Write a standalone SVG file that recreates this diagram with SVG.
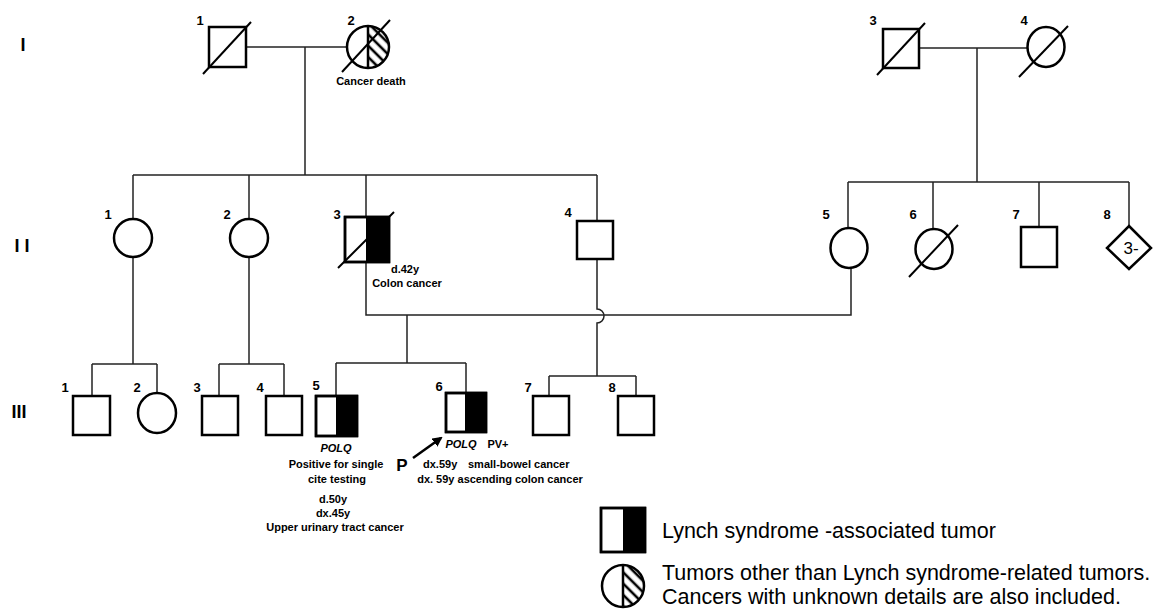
<svg xmlns="http://www.w3.org/2000/svg" width="1159" height="609" viewBox="0 0 1159 609">
<style>
.sh{fill:#fff;stroke:#000;stroke-width:2.5}
.fill{fill:#000;stroke:none}
.dg{stroke:#000;stroke-width:2;fill:none}
.cn{stroke:#222;stroke-width:1.5;fill:none}
.num{font-family:"Liberation Sans",Arial,sans-serif;font-weight:bold;font-size:13px;fill:#000;text-anchor:middle}
.rom{font-family:"Liberation Sans",Arial,sans-serif;font-weight:bold;font-size:18px;fill:#000;text-anchor:middle}
.ann{font-family:"Liberation Sans",Arial,sans-serif;font-weight:bold;font-size:11px;fill:#000;text-anchor:middle}
.it{font-style:italic}
.leg{font-family:"Liberation Sans",Arial,sans-serif;font-size:21.5px;fill:#000}
</style>
<defs>
<pattern id="hatch" patternUnits="userSpaceOnUse" width="8" height="8" patternTransform="rotate(-45)">
<rect width="8" height="8" fill="#fff"/>
<line x1="4" y1="0" x2="4" y2="8" stroke="#000" stroke-width="2.6"/>
</pattern>
<marker id="arr" markerWidth="10" markerHeight="10" refX="8" refY="5" orient="auto" markerUnits="userSpaceOnUse">
<path d="M0,0 L10,5 L0,10 Z" fill="#000"/>
</marker>
</defs>

<g id="generation-labels">
<text class="rom" x="23" y="51">I</text>
<text class="rom" x="22" y="252">I I</text>
<text class="rom" x="19" y="418">III</text>
</g>

<g id="connectors">
<line class="cn" x1="246" y1="47" x2="346" y2="47"/>
<line class="cn" x1="305" y1="47" x2="305" y2="175"/>
<line class="cn" x1="133" y1="175" x2="597" y2="175"/>
<line class="cn" x1="133" y1="175" x2="133" y2="219"/>
<line class="cn" x1="249" y1="175" x2="249" y2="219"/>
<line class="cn" x1="366" y1="175" x2="366" y2="217"/>
<line class="cn" x1="597" y1="175" x2="597" y2="221"/>
<line class="cn" x1="919" y1="48" x2="1028" y2="48"/>
<line class="cn" x1="977" y1="48" x2="977" y2="182"/>
<line class="cn" x1="848" y1="182" x2="1129" y2="182"/>
<line class="cn" x1="848" y1="182" x2="848" y2="228"/>
<line class="cn" x1="933" y1="182" x2="933" y2="229"/>
<line class="cn" x1="1039" y1="182" x2="1039" y2="227"/>
<line class="cn" x1="1129" y1="182" x2="1129" y2="226"/>
<polyline class="cn" points="366,262 366,315 851,315 851,268"/>
<line class="cn" x1="407" y1="315" x2="407" y2="363"/>
<line class="cn" x1="336" y1="363" x2="466" y2="363"/>
<line class="cn" x1="336" y1="363" x2="336" y2="396"/>
<line class="cn" x1="466" y1="363" x2="466" y2="393"/>
<path class="cn" d="M597,259 L597,309 A7,7 0 0 1 597,323 L597,376"/>
<line class="cn" x1="549" y1="376" x2="636" y2="376"/>
<line class="cn" x1="549" y1="376" x2="549" y2="396"/>
<line class="cn" x1="636" y1="376" x2="636" y2="396"/>
<line class="cn" x1="133" y1="257" x2="133" y2="364"/>
<line class="cn" x1="92" y1="364" x2="157" y2="364"/>
<line class="cn" x1="92" y1="364" x2="92" y2="396"/>
<line class="cn" x1="157" y1="364" x2="157" y2="393"/>
<line class="cn" x1="249" y1="257" x2="249" y2="364"/>
<line class="cn" x1="219" y1="364" x2="284" y2="364"/>
<line class="cn" x1="219" y1="364" x2="219" y2="396"/>
<line class="cn" x1="284" y1="364" x2="284" y2="396"/>
</g>

<g id="I-1">
<rect class="sh" x="209" y="27" width="37" height="40"/>
<line class="dg" x1="203" y1="74" x2="251" y2="22"/>
<text class="num" x="200" y="25">1</text>
</g>
<g id="I-2">
<circle cx="368" cy="47" r="21" fill="#fff"/>
<path d="M368,26 A21,21 0 0 1 368,68 Z" fill="url(#hatch)"/>
<circle cx="368" cy="47" r="21" fill="none" stroke="#000" stroke-width="2.5"/>
<line x1="368" y1="26" x2="368" y2="68" stroke="#000" stroke-width="2.5"/>
<line class="dg" x1="342" y1="72" x2="390" y2="20"/>
<text class="num" x="351" y="25">2</text>
<text class="ann" x="371" y="85">Cancer death</text>
</g>
<g id="I-3">
<rect class="sh" x="883" y="29" width="36" height="39"/>
<line class="dg" x1="877" y1="75" x2="925" y2="23"/>
<text class="num" x="873" y="25">3</text>
</g>
<g id="I-4">
<ellipse class="sh" cx="1046" cy="47" rx="18.5" ry="20"/>
<line class="dg" x1="1019" y1="77" x2="1068" y2="26"/>
<text class="num" x="1024" y="25">4</text>
</g>

<g id="II-1">
<circle class="sh" cx="133" cy="238" r="19"/>
<text class="num" x="108" y="219">1</text>
</g>
<g id="II-2">
<circle class="sh" cx="249" cy="238" r="19"/>
<text class="num" x="227" y="219">2</text>
</g>
<g id="II-3">
<rect class="sh" x="345" y="217" width="44" height="45"/>
<rect class="fill" x="366" y="217" width="23" height="45"/>
<rect x="345" y="217" width="44" height="45" fill="none" stroke="#000" stroke-width="2.5"/>
<line class="dg" x1="338" y1="268" x2="394" y2="212"/>
<text class="num" x="337" y="219">3</text>
<text class="ann" x="405" y="273">d.42y</text>
<text class="ann" x="407" y="287">Colon cancer</text>
</g>
<g id="II-4">
<rect class="sh" x="577" y="221" width="36" height="38"/>
<text class="num" x="568" y="217">4</text>
</g>
<g id="II-5">
<ellipse class="sh" cx="849" cy="248" rx="18.5" ry="20"/>
<text class="num" x="826" y="219">5</text>
</g>
<g id="II-6">
<ellipse class="sh" cx="934" cy="249" rx="18.5" ry="20"/>
<line class="dg" x1="909" y1="277" x2="958" y2="225"/>
<text class="num" x="913" y="219">6</text>
</g>
<g id="II-7">
<rect class="sh" x="1021" y="227" width="36" height="40"/>
<text class="num" x="1016" y="219">7</text>
</g>
<g id="II-8">
<polygon class="sh" points="1129,226 1151,248 1129,269 1107,248"/>
<text x="1131" y="254" font-family="Liberation Sans, Arial, sans-serif" font-size="17" text-anchor="middle">3-</text>
<text class="num" x="1107" y="219">8</text>
</g>

<g id="III-1">
<rect class="sh" x="73" y="396" width="37" height="39"/>
<text class="num" x="65" y="392">1</text>
</g>
<g id="III-2">
<ellipse class="sh" cx="157" cy="413" rx="19" ry="20"/>
<text class="num" x="137" y="392">2</text>
</g>
<g id="III-3">
<rect class="sh" x="202" y="396" width="36" height="39"/>
<text class="num" x="197" y="392">3</text>
</g>
<g id="III-4">
<rect class="sh" x="266" y="396" width="36" height="39"/>
<text class="num" x="260" y="392">4</text>
</g>
<g id="III-5">
<rect class="sh" x="316" y="396" width="41" height="40"/>
<rect class="fill" x="336" y="396" width="21" height="40"/>
<rect x="316" y="396" width="41" height="40" fill="none" stroke="#000" stroke-width="2.5"/>
<text class="num" x="316" y="390">5</text>
<text class="ann it" x="336" y="452">POLQ</text>
<text class="ann" x="336" y="468">Positive for single</text>
<text class="ann" x="337" y="483">cite testing</text>
<text class="ann" x="333" y="503">d.50y</text>
<text class="ann" x="333" y="517">dx.45y</text>
<text class="ann" x="335" y="531">Upper urinary tract cancer</text>
</g>
<g id="III-6">
<rect class="sh" x="446" y="393" width="40" height="39"/>
<rect class="fill" x="465" y="393" width="21" height="39"/>
<rect x="446" y="393" width="40" height="39" fill="none" stroke="#000" stroke-width="2.5"/>
<text class="num" x="439" y="391">6</text>
<text class="ann it" x="461" y="448">POLQ</text>
<text class="ann" x="498" y="448">PV+</text>
<text class="ann" x="423" y="468" style="text-anchor:start">dx.59y</text>
<text class="ann" x="468" y="468" style="text-anchor:start">small-bowel cancer</text>
<text class="ann" x="500" y="483">dx. 59y ascending colon cancer</text>
</g>
<g id="proband">
<text x="402" y="471" font-family="Liberation Sans, Arial, sans-serif" font-weight="bold" font-size="17" text-anchor="middle">P</text>
<line x1="413" y1="458" x2="441" y2="438" stroke="#000" stroke-width="2.5" marker-end="url(#arr)"/>
</g>
<g id="III-7">
<rect class="sh" x="533" y="396" width="36" height="39"/>
<text class="num" x="528" y="392">7</text>
</g>
<g id="III-8">
<rect class="sh" x="618" y="396" width="36" height="39"/>
<text class="num" x="612" y="392">8</text>
</g>

<g id="legend">
<rect class="sh" x="601" y="508" width="44" height="44"/>
<rect class="fill" x="623" y="508" width="22" height="44"/>
<rect x="601" y="508" width="44" height="44" fill="none" stroke="#000" stroke-width="2.5"/>
<text class="leg" x="662" y="538">Lynch syndrome -associated tumor</text>
<circle cx="623" cy="586" r="21" fill="#fff"/>
<path d="M623,565 A21,21 0 0 1 623,607 Z" fill="url(#hatch)"/>
<circle cx="623" cy="586" r="21" fill="none" stroke="#000" stroke-width="2.5"/>
<line x1="623" y1="565" x2="623" y2="607" stroke="#000" stroke-width="2.5"/>
<text class="leg" x="662" y="580">Tumors other than Lynch syndrome-related tumors.</text>
<text class="leg" x="662" y="604">Cancers with unknown details are also included.</text>
</g>
</svg>
